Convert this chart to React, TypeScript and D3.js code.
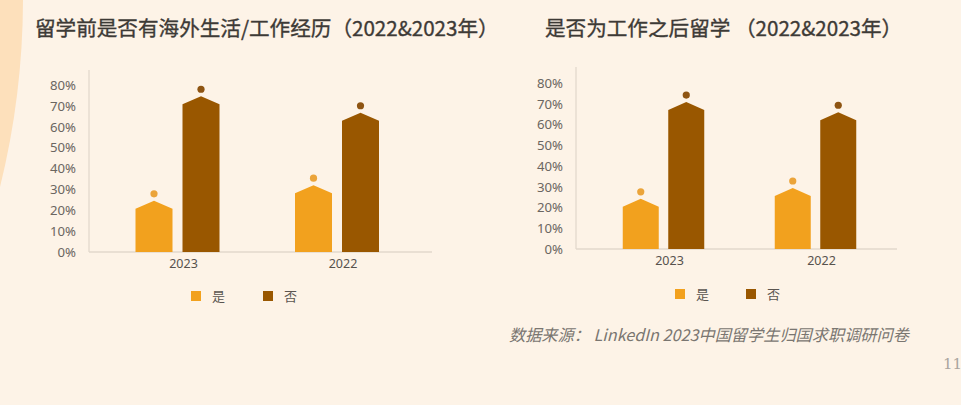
import React from "react";
import * as d3 from "d3";

const categories = ["2023", "2022"];
const seriesNames = ["是", "否"];
const chart1Title = "留学前是否有海外生活/工作经历（2022&2023年）";
const chart1Yes = [24.5, 32];
const chart1No = [74.6, 66.7];
const chart2Title = "是否为工作之后留学 （2022&2023年）";
const chart2Yes = [24.2, 29.4];
const chart2No = [70.8, 65.9];
const yTicks = [0, 10, 20, 30, 40, 50, 60, 70, 80];
const sourceText = "数据来源：  LinkedIn 2023中国留学生归国求职调研问卷";
const pageNumber = "11";

const W = 961;
const H = 405;
const COLORS = ["#f2a11e", "#995700"];
const DOT_COLORS = ["#eba43a", "#8e5412"];
const BG = "#fdf3e7";
const CJK = "'Noto Sans CJK SC', 'Noto Sans', sans-serif";
const NUM = "'Noto Sans', 'Open Sans', sans-serif";

type Layout = {
  title: string;
  titleX: number;
  yes: number[];
  no: number[];
  axisX: number;
  axisTop: number;
  axisRight: number;
  y0: number;
  y80: number;
  groupA: number;
  groupB: number;
  barW: number;
  gap: number;
  labelY: number;
  legendX: number;
  legendGap: number;
  legendY: number;
};

function Chart({ L }: { L: Layout }) {
  const y = d3.scaleLinear().domain([0, 80]).range([L.y0, L.y80]);
  const x = d3.scalePoint<string>().domain(categories).range([L.groupA, L.groupB]);
  const tip = 8;
  const bar = (cx: number, w: number, v: number) => {
    const top = y(v);
    const p = d3.path();
    p.moveTo(cx - w / 2, L.y0);
    p.lineTo(cx - w / 2, top + tip);
    p.lineTo(cx, top);
    p.lineTo(cx + w / 2, top + tip);
    p.lineTo(cx + w / 2, L.y0);
    p.closePath();
    return p.toString();
  };
  return (
    <g>
      <text x={L.titleX} y={36} fontFamily={CJK} fontSize={20.6} fontWeight={400} fill="#3d3a36" stroke="#3d3a36" strokeWidth={0.35}>
        {L.title}
      </text>
      <line x1={L.axisX} x2={L.axisX} y1={L.axisTop} y2={L.y0} stroke="#e6ddd0" strokeWidth={1.5} />
      <line x1={L.axisX} x2={L.axisRight} y1={L.y0} y2={L.y0} stroke="#e2d9cc" strokeWidth={1.5} />
      {yTicks.map((t) => (
        <text key={t} x={L.axisX - 13} y={y(t)} dy="0.36em" textAnchor="end" fontFamily={NUM} fontSize={13.2} fill="#6b6661">
          {t}%
        </text>
      ))}
      {categories.map((c, i) => {
        const cx = x(c) as number;
        const vals = [L.yes[i], L.no[i]];
        const centers = [cx - L.gap / 2 - L.barW / 2, cx + L.gap / 2 + L.barW / 2];
        return (
          <g key={c}>
            {vals.map((v, j) => (
              <g key={j}>
                <path d={bar(centers[j], L.barW, v)} fill={COLORS[j]} />
                <circle cx={centers[j]} cy={y(v) - 7} r={3.6} fill={DOT_COLORS[j]} />
              </g>
            ))}
            <text x={cx + 6} y={L.labelY} dy="0.36em" textAnchor="middle" fontFamily={NUM} fontSize={12.5} fill="#57524d">
              {c}
            </text>
          </g>
        );
      })}
      {seriesNames.map((s, j) => (
        <g key={s} transform={`translate(${L.legendX + j * L.legendGap},${L.legendY})`}>
          <rect x={0} y={-5} width={10} height={10} fill={COLORS[j]} />
          <text x={21} y={0} dy="0.36em" fontFamily={CJK} fontSize={13} fill="#5a5550">
            {s}
          </text>
        </g>
      ))}
    </g>
  );
}

const left: Layout = {
  title: chart1Title,
  titleX: 35,
  yes: chart1Yes,
  no: chart1No,
  axisX: 89,
  axisTop: 70,
  axisRight: 432,
  y0: 252,
  y80: 85,
  groupA: 177.5,
  groupB: 337,
  barW: 37,
  gap: 10,
  labelY: 263,
  legendX: 191,
  legendGap: 72,
  legendY: 296,
};

const right: Layout = {
  title: chart2Title,
  titleX: 545,
  yes: chart2Yes,
  no: chart2No,
  axisX: 576,
  axisTop: 67,
  axisRight: 897,
  y0: 249,
  y80: 83,
  groupA: 663.5,
  groupB: 815.5,
  barW: 36,
  gap: 9.5,
  labelY: 260.5,
  legendX: 675,
  legendGap: 71,
  legendY: 294,
};

export default function App() {
  return (
    <svg width={W} height={H} style={{ position: "absolute", left: 0, top: 0, display: "block" }}>
      <rect x={0} y={0} width={W} height={H} fill={BG} />
      <path d="M0,0 L23,0 A788,788 0 0 1 0,187 Z" fill="#fde0bb" />
      <Chart L={left} />
      <Chart L={right} />
      <text x={509} y={341} fontFamily={CJK} fontStyle="italic" fontSize={16.2} fill="#7a7671">
        {sourceText}
      </text>
      <text x={943} y={369} fontFamily="'DejaVu Serif', serif" fontSize={15} fill="#aaa59f">
        {pageNumber}
      </text>
    </svg>
  );
}
